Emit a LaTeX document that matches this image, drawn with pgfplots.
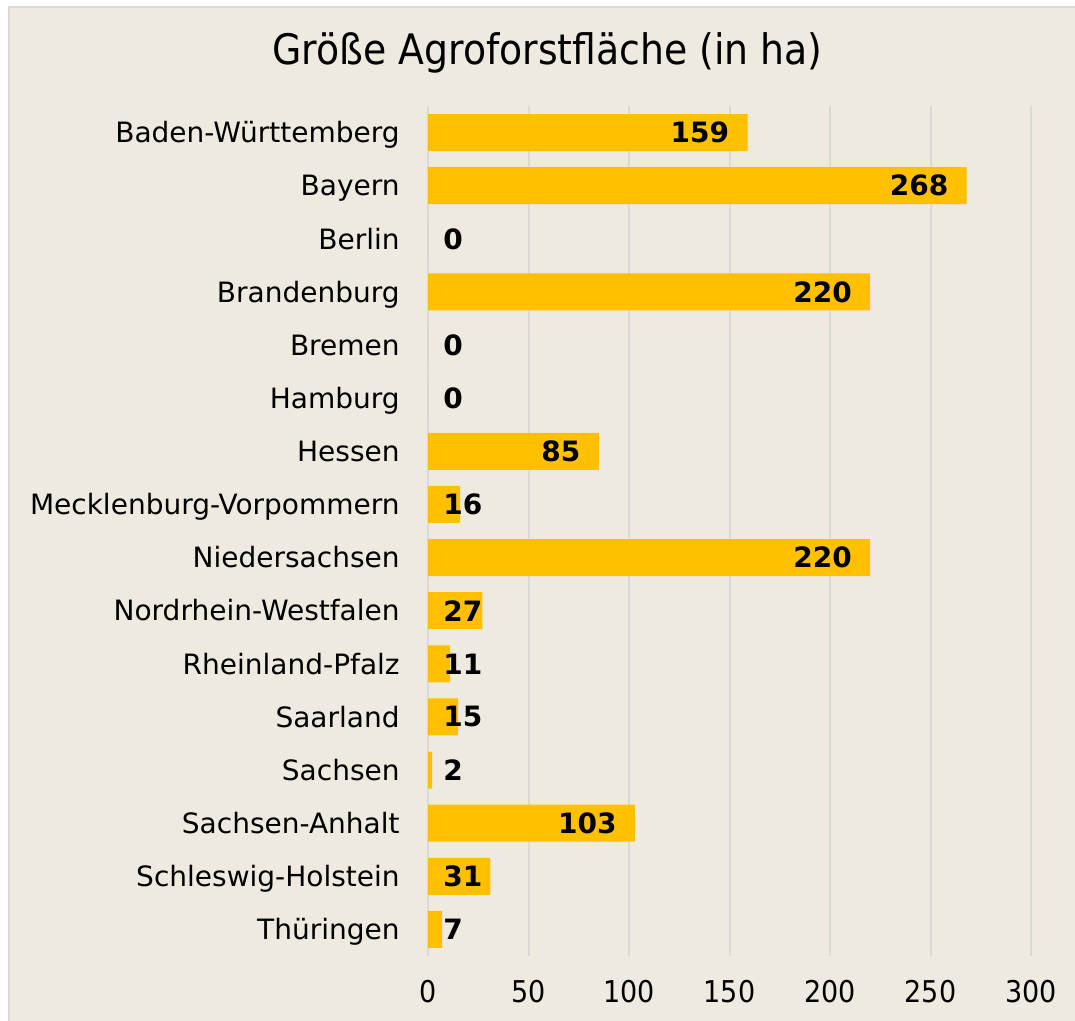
\documentclass[border=0pt]{standalone}
\usepackage{fontspec}
\setmainfont{DejaVu Sans}
\newfontfamily\condensed{DejaVu Sans Condensed}
\usepackage{pgfplots}
\pgfplotsset{compat=1.18}
\usepackage{pgfplotstable}

\definecolor{bg}{HTML}{EEEADF}
\definecolor{gold}{HTML}{FFC000}
\definecolor{gridgray}{HTML}{D9D9D9}

% y index (0 = top), area in ha
\pgfplotstableread{
y  val
0  159
1  268
2  0
3  220
4  0
5  0
6  85
7  16
8  220
9  27
10 11
11 15
12 2
13 103
14 31
15 7
}\datatable

\begin{document}
\begin{tikzpicture}
\path[use as bounding box] (0,0) rectangle (537.5pt,510.5pt);
\fill[white] (0,0) rectangle (537.5pt,510.5pt);
\fill[bg] (4.5pt,0) rectangle (537.5pt,507pt);
\draw[gridgray, line width=1pt] (4.5pt,0) -- (4.5pt,507pt) -- (537.5pt,507pt);

\node[font=\condensed\fontsize{21}{25}\selectfont] at (273.75pt,484pt) {Größe Agroforstfläche (in ha)};

\begin{axis}[
    at={(214pt,32.5pt)}, anchor=south west,
    scale only axis,
    width=301.5pt, height=425pt,
    xmin=0, xmax=300,
    ymin=-0.5, ymax=15.5,
    y dir=reverse,
    axis line style={draw=none},
    tick style={draw=none},
    xtick={0,50,...,300},
    xmajorgrids,
    grid style={gridgray, line width=1pt},
    ytick={0,...,15},
    yticklabels={Baden-Württemberg,Bayern,Berlin,Brandenburg,Bremen,Hamburg,Hessen,Mecklenburg-Vorpommern,Niedersachsen,Nordrhein-Westfalen,Rheinland-Pfalz,Saarland,Sachsen,Sachsen-Anhalt,Schleswig-Holstein,Thüringen},
    yticklabel style={font=\fontsize{14}{16}\selectfont, inner sep=0pt,
        text height=0.76em, text depth=0.24em, xshift=-14pt, yshift=-2.5pt},
    xticklabel style={font=\condensed\fontsize{15}{18}\selectfont, inner sep=0pt, yshift=-12pt},
    /pgf/number format/assume math mode=true,
    clip=false,
]
\addplot[xbar, bar width=18.5pt, fill=gold, draw=none] table[x=val, y=y] {\datatable};
% labels inside the bar end
\addplot[draw=none, mark=none, forget plot,
    nodes near coords, point meta=explicit symbolic,
    nodes near coords style={anchor=east, inner sep=0pt, xshift=-9pt,
        font=\bfseries\fontsize{14}{16}\selectfont, text=black}]
    coordinates {(159,0) [159] (268,1) [268] (220,3) [220] (85,6) [85]
                 (220,8) [220] (103,13) [103]};
% labels at the base for short bars
\addplot[draw=none, mark=none, forget plot,
    nodes near coords, point meta=explicit symbolic,
    nodes near coords style={anchor=west, inner sep=0pt, xshift=7.5pt,
        font=\bfseries\fontsize{14}{16}\selectfont, text=black}]
    coordinates {(0,2) [0] (0,4) [0] (0,5) [0] (0,7) [16] (0,9) [27]
                 (0,10) [11] (0,11) [15] (0,12) [2] (0,14) [31] (0,15) [7]};
\end{axis}
\end{tikzpicture}
\end{document}
